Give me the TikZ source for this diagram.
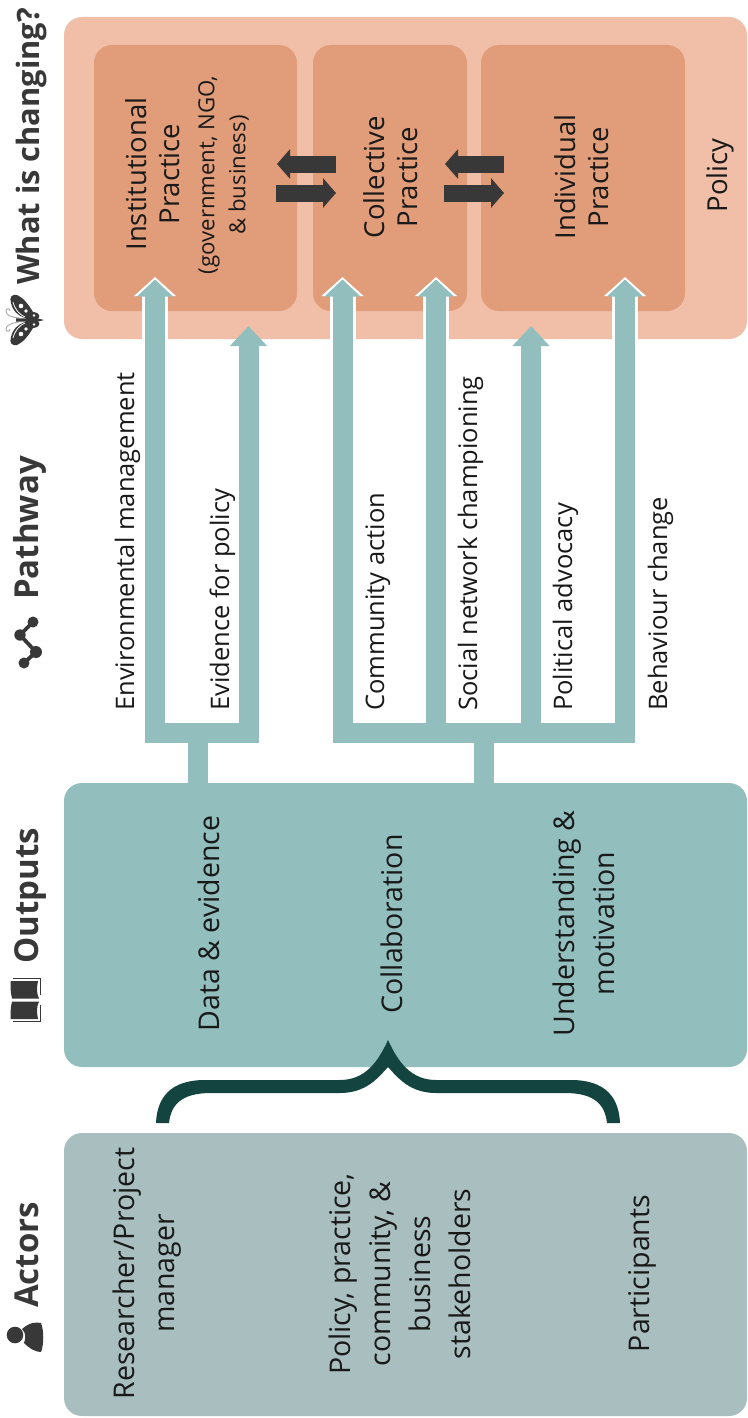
\documentclass[tikz,border=0pt]{standalone}
\usepackage{fontspec}
\setmainfont{Open Sans}
\usetikzlibrary{arrows.meta}
\definecolor{policyc}{HTML}{F1BEA8}
\definecolor{practc}{HTML}{E19D79}
\definecolor{tealc}{HTML}{92BEBE}
\definecolor{actorc}{HTML}{A9BEBF}
\definecolor{bracec}{HTML}{13443F}
\definecolor{darkc}{HTML}{383838}
\tikzset{
  panel/.style={rectangle,rounded corners=18pt,inner sep=0pt,draw=none},
  lbl/.style={rotate=90,inner sep=0pt,align=center,text=black!90},
  bigtxt/.style={lbl,font=\fontsize{28.5}{40}\selectfont},
  midtxt/.style={lbl,font=\fontsize{27.5}{33}\selectfont},
  pathtxt/.style={lbl,font=\fontsize{25.5}{30}\selectfont,anchor=base west},
  smalllbl/.style={lbl,font=\fontsize{22.2}{31}\selectfont},
  head/.style={rotate=90,inner sep=0pt,font=\fontsize{33}{40}\selectfont\bfseries,text=darkc,anchor=base west},
  bar/.style={draw=tealc,line width=20pt},
  halo/.style={draw=white,line width=26pt,-{Triangle[width=41pt,length=19pt,fill=white]}},
  tiparrow/.style={draw=tealc,line width=20pt,-{Triangle[width=35pt,length=17pt,fill=tealc]}},
  shortarrow/.style={draw=tealc,line width=20pt,-{Triangle[width=36pt,length=20pt,fill=tealc]}},
  swap/.style={draw=darkc,line width=17pt,-{Triangle[width=29pt,length=13pt,fill=darkc]}},
}
\begin{document}
\begin{tikzpicture}[x=1pt,y=-1pt]
\useasboundingbox (0,0) rectangle (747,1418);
% panels
\node[panel,fill=policyc,minimum width=683pt,minimum height=322pt] (policy) at (405.5,178) {};
\node[panel,fill=practc,minimum width=203pt,minimum height=266pt] (inst) at (195.5,178) {};
\node[panel,fill=practc,minimum width=154pt,minimum height=266pt] (coll) at (390,178) {};
\node[panel,fill=practc,minimum width=204pt,minimum height=266pt] (indi) at (583,178) {};
\node[panel,fill=tealc,minimum width=683pt,minimum height=284pt] (outputs) at (405.5,925) {};
\node[panel,fill=actorc,minimum width=683pt,minimum height=283pt] (actors) at (405.5,1274.5) {};
% coordinates
\coordinate (j1) at (198,733);
\coordinate (j2) at (484,733);
\coordinate (b1) at (155,733);
\coordinate (b2) at (248.5,733);
\coordinate (c1) at (342.5,733);
\coordinate (c2) at (436,733);
\coordinate (c3) at (531,733);
\coordinate (c4) at (625,733);
\coordinate (tb1) at (155,277);
\coordinate (tb2) at (248.5,326);
\coordinate (tc1) at (342.5,277);
\coordinate (tc2) at (436,277);
\coordinate (tc3) at (531,326);
\coordinate (tc4) at (625,277);
% stems and bars
\draw[bar] (outputs.north -| j1) -- (j1);
\draw[bar] (outputs.north -| j2) -- (j2);
% arrows
\foreach \f/\t in {b1/tb1,c1/tc1,c2/tc2,c4/tc4}{
  \draw[halo] (\f) -- (\t);
}
\foreach \f/\t in {b1/tb1,c1/tc1,c2/tc2,c4/tc4}{
  \draw[tiparrow] (\f) -- ([yshift=-2.5pt]\t);
}
\draw[shortarrow] (b2) -- (tb2);
\draw[shortarrow] (c3) -- (tc3);
\draw[bar,line cap=rect] (b1) -- (b2);
\draw[bar,line cap=rect] (c1) -- (c4);
% swap arrows
\coordinate (s1a) at (336,164); \coordinate (s1b) at (277,164);
\coordinate (s2a) at (276,193); \coordinate (s2b) at (336,193);
\coordinate (s3a) at (504,164); \coordinate (s3b) at (445,164);
\coordinate (s4a) at (444,193); \coordinate (s4b) at (504,193);
\draw[swap] (s1a) -- (s1b);
\draw[swap] (s2a) -- (s2b);
\draw[swap] (s3a) -- (s3b);
\draw[swap] (s4a) -- (s4b);
% brace
\fill[bracec] (156,1123) .. controls (157,1098) and (170,1080) .. (205,1080)
  -- (340,1080) .. controls (365,1080) and (378,1062) .. (388,1040)
  .. controls (398,1062) and (411,1080) .. (436,1080)
  -- (571,1080) .. controls (606,1080) and (619,1098) .. (620,1123)
  -- (607,1123) .. controls (605,1105) and (595,1093) .. (565,1093)
  -- (436,1093) .. controls (410,1093) and (398,1078) .. (388,1067)
  .. controls (378,1078) and (366,1093) .. (340,1093)
  -- (211,1093) .. controls (181,1093) and (171,1105) .. (169,1123) -- cycle;
% headings
\node[head,font=\fontsize{30.8}{36}\selectfont\bfseries] (h1) at (39,285) {What is changing?};
\node[head] (h2) at (38,600) {Pathway};
\node[head] (h3) at (38,964) {Outputs};
\node[head] (h4) at (38,1308) {Actors};
% butterfly icon
\begin{scope}[darkc]
\draw[gray!70,line width=0.9pt] (19,318) .. controls (12,317) and (6,316) .. (6,311) .. controls (6,308) and (10,308) .. (10,311);
\draw[gray!70,line width=0.9pt] (19,322) .. controls (12,323) and (6,325) .. (6,329) .. controls (6,332) and (10,332) .. (10,329);
\fill (16,318.5) -- (36,318) -- (44,320) -- (36,322) -- (16,321.5) -- cycle;
\fill (37,319) .. controls (32,310) and (26,299) .. (17,295) .. controls (12,294) and (9,297) .. (11,303) .. controls (12,310) and (18,316) .. (25,318) -- cycle;
\fill (37,321) .. controls (32,330) and (26,341) .. (17,345) .. controls (12,346) and (9,343) .. (11,337) .. controls (12,330) and (18,324) .. (25,322) -- cycle;
\fill (30,318) .. controls (30,312) and (33,311) .. (37,313) .. controls (40,315) and (40,318) .. (38,319) -- cycle;
\fill (30,322) .. controls (30,328) and (33,329) .. (37,327) .. controls (40,325) and (40,322) .. (38,321) -- cycle;
\fill[white] (21,306) circle (2.3pt) (26,311) circle (1.8pt) (34,315.5) circle (1.3pt)
             (21,334) circle (2.3pt) (26,329) circle (1.8pt) (34,324.5) circle (1.3pt);
\draw[white,line width=0.8pt] (13,302) .. controls (15,310) and (20,315) .. (25,317);
\draw[white,line width=0.8pt] (13,338) .. controls (15,330) and (20,325) .. (25,323);
% network icon
\draw[line width=3.8pt] (33,622) -- (20,635) -- (36,652) -- (24,663);
\fill (33,622) circle (5.5pt) (20,635) circle (5.7pt) (36,652) circle (6pt) (24,663) circle (5.5pt);
% book icon
\fill (12,1001.5) -- (39,1001.5) .. controls (36,1008) and (37,1013) .. (38,1019) -- (10.5,1019) .. controls (10.5,1012) and (10.5,1008) .. (12,1001.5) -- cycle;
\fill (12,998.5) -- (39,998.5) .. controls (36,992) and (37,987) .. (38,981) -- (10.5,981) .. controls (10.5,988) and (10.5,992) .. (12,998.5) -- cycle;
\draw[line width=1pt] (13,1021.5) -- (40.5,1021.5) -- (40.5,1005);
\draw[line width=1pt] (13,978.5) -- (40.5,978.5) -- (40.5,995);
% person icon
\fill (15,1335) circle (8.3pt);
\fill (41,1323) .. controls (36,1322) and (30,1322) .. (22,1329) .. controls (26,1333) and (26,1338) .. (24,1343)
  .. controls (30,1349) and (36,1352) .. (41,1352) .. controls (44,1345) and (44,1330) .. (41,1323) -- cycle;
\end{scope}
% labels
\node[midtxt] (t1) at (152.5,174) {Institutional\\Practice};
\node[smalllbl] (t2) at (223.5,175) {(government, NGO,\\\& business)};
\node[midtxt] (t3) at (390.5,177) {Collective\\Practice};
\node[midtxt] (t4) at (582,177) {Individual\\Practice};
\node[midtxt] (t5) at (720,175.5) {Policy};
\node[pathtxt] (p1) at (134,711) {Environmental management};
\node[pathtxt] (p2) at (229,711) {Evidence for policy};
\node[pathtxt] (p3) at (384,711) {Community action};
\node[pathtxt] (p4) at (477,711) {Social network championing};
\node[pathtxt] (p5) at (572,711) {Political advocacy};
\node[pathtxt] (p6) at (667,711) {Behaviour change};
\node[bigtxt,anchor=base] (o1) at (219,923.5) {Data \& evidence};
\node[bigtxt,anchor=base] (o2) at (402,924) {Collaboration};
\node[bigtxt] (o3) at (584,923.5) {Understanding \&\\motivation};
\node[bigtxt] (a1) at (147,1273.5) {Researcher/Project\\manager};
\node[bigtxt] (a2) at (399.5,1274) {Policy, practice,\\community, \&\\business\\stakeholders};
\node[bigtxt,anchor=base] (a3) at (649,1273.5) {Participants};
\end{tikzpicture}
\end{document}
